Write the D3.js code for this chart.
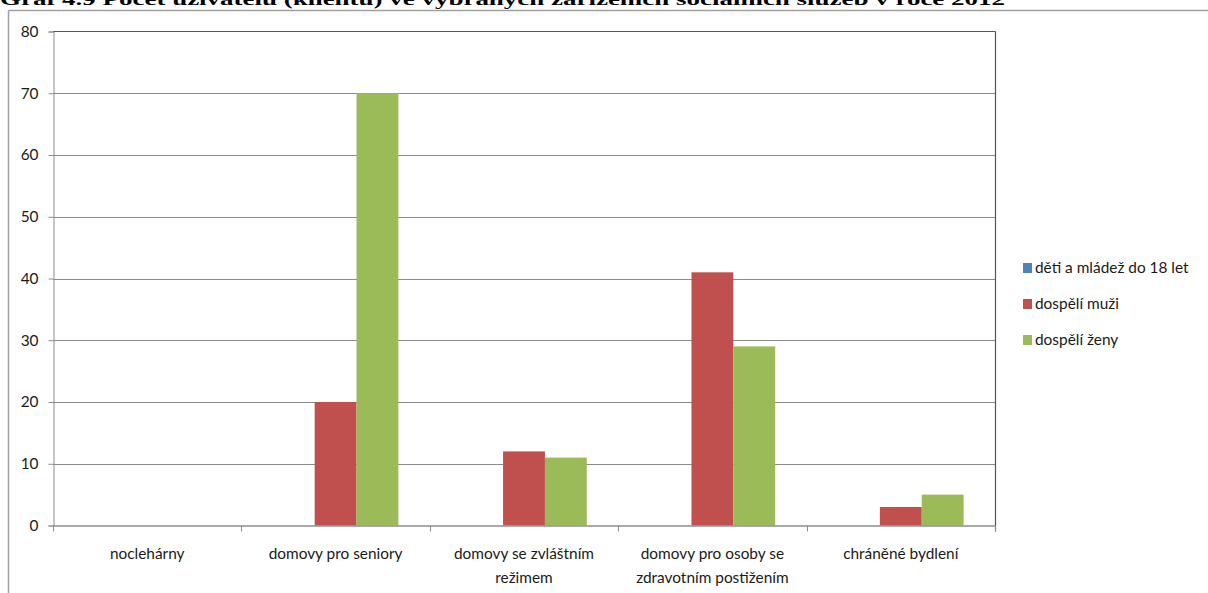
<!DOCTYPE html>
<html><head><meta charset="utf-8">
<script src="https://cdn.jsdelivr.net/npm/d3@7"></script>
<style>body{margin:0;background:#fff;}svg{display:block;}</style>
</head><body>
<script>
const categories = ["noclehárny", "domovy pro seniory", "domovy se zvláštním režimem", "domovy pro osoby se zdravotním postižením", "chráněné bydlení"];
const categoryLines = [["noclehárny"], ["domovy pro seniory"], ["domovy se zvláštním", "režimem"], ["domovy pro osoby se", "zdravotním postižením"], ["chráněné bydlení"]];
const seriesNames = ["děti a mládež do 18 let", "dospělí muži", "dospělí ženy"];
const deti = [0, 0, 0, 0, 0];
const muzi = [0, 20, 12, 41, 3];
const zeny = [0, 70, 11, 29, 5];
const yTicks = [0, 10, 20, 30, 40, 50, 60, 70, 80];
const colors = ["#4F81BD", "#C0504D", "#9BBB59"];
const title = "Graf 4.9 Počet uživatelů (klientů) ve vybraných zařízeních sociálních služeb v roce 2012";

(function () {
const W = 1208, H = 593;
const svg = d3.select("body").append("svg").attr("width", W).attr("height", H);
const font = "Lato, 'Open Sans', sans-serif";
const fs = 15.4;

// title (cut off at top, as in the source image)
svg.append("text").attr("x", 0).attr("y", 5)
  .attr("font-family", "'Liberation Serif', serif").attr("font-weight", "bold")
  .attr("font-size", 17).attr("fill", "#000")
  .attr("textLength", 1005).attr("lengthAdjust", "spacingAndGlyphs")
  .text(title);

// outer frame
svg.append("line").attr("x1", 8.5).attr("x2", W).attr("y1", 10.5).attr("y2", 10.5).attr("stroke", "#a0a0a0").attr("stroke-width", 1.5);
svg.append("line").attr("x1", 8.5).attr("x2", 8.5).attr("y1", 10.5).attr("y2", H).attr("stroke", "#a0a0a0").attr("stroke-width", 1.5);

const pLeft = 53, pRight = 995, pTop = 31.5, pBottom = 525.5;
const x = d3.scaleBand().domain(categories).range([pLeft, pRight]).paddingInner(0).paddingOuter(0);
const y = d3.scaleLinear().domain([0, 80]).range([pBottom, pTop]);
const groupW = x.bandwidth() * 3 / 4.5;
const xs = d3.scaleBand().domain(seriesNames).range([0, groupW]);

// gridlines
svg.append("g").selectAll("line").data(yTicks.filter(t => t > 0 && t < 80)).join("line")
  .attr("x1", pLeft).attr("x2", pRight)
  .attr("y1", d => Math.round(y(d)) + 0.5).attr("y2", d => Math.round(y(d)) + 0.5)
  .attr("stroke", "#8c8c8c").attr("stroke-width", 1);

// bars
const series = [deti, muzi, zeny];
seriesNames.forEach((s, si) => {
  svg.append("g").selectAll("rect").data(categories).join("rect")
    .attr("x", c => x(c) + (x.bandwidth() - groupW) / 2 + xs(s))
    .attr("width", xs.bandwidth())
    .attr("y", (c, i) => y(series[si][i]))
    .attr("height", (c, i) => pBottom - y(series[si][i]))
    .attr("fill", colors[si]);
});

// plot border top & right
svg.append("line").attr("x1", pLeft).attr("x2", pRight + 0.5).attr("y1", pTop).attr("y2", pTop).attr("stroke", "#555").attr("stroke-width", 1.2);
svg.append("line").attr("x1", pRight + 0.5).attr("x2", pRight + 0.5).attr("y1", pTop).attr("y2", pBottom + 6).attr("stroke", "#555").attr("stroke-width", 1.2);

// y axis
const yAxis = d3.axisLeft(y).tickValues(yTicks).tickSize(5).tickPadding(10).tickFormat(d3.format("d"));
const gy = svg.append("g").attr("transform", `translate(${pLeft + 0.5},0)`).call(yAxis);
gy.select(".domain").attr("stroke", "#8c8c8c");
gy.selectAll(".tick line").attr("stroke", "#8c8c8c");
gy.selectAll(".tick text").attr("font-family", font).attr("font-size", fs).attr("fill", "#1a1a1a");

// x axis
const gx = svg.append("g").attr("transform", `translate(0,${pBottom})`);
gx.append("line").attr("x1", pLeft).attr("x2", pRight).attr("y1", 0.5).attr("y2", 0.5).attr("stroke", "#8c8c8c").attr("stroke-width", 1.5);
const bounds = categories.map(c => x(c)).concat([pRight]);
gx.selectAll("line.tk").data(bounds).join("line").attr("class", "tk")
  .attr("x1", d => Math.round(d) + 0.5).attr("x2", d => Math.round(d) + 0.5).attr("y1", 0).attr("y2", 6)
  .attr("stroke", "#8c8c8c");
categories.forEach((c, i) => {
  const t = gx.append("text").attr("x", x(c) + x.bandwidth() / 2).attr("y", 33)
    .attr("text-anchor", "middle").attr("font-family", font).attr("font-size", fs).attr("fill", "#1a1a1a");
  categoryLines[i].forEach((ln, j) => t.append("tspan").attr("x", x(c) + x.bandwidth() / 2).attr("dy", j ? 24 : 0).text(ln));
});

// legend
const lg = svg.append("g").attr("transform", "translate(1023,268)");
seriesNames.forEach((s, i) => {
  const g = lg.append("g").attr("transform", `translate(0,${i * 36})`);
  g.append("rect").attr("x", 0).attr("y", -5).attr("width", 9).attr("height", 10).attr("fill", colors[i]);
  g.append("text").attr("x", 12).attr("y", 5).attr("font-family", font).attr("font-size", fs).attr("fill", "#1a1a1a").text(s);
});
})();
</script>
</body></html>
